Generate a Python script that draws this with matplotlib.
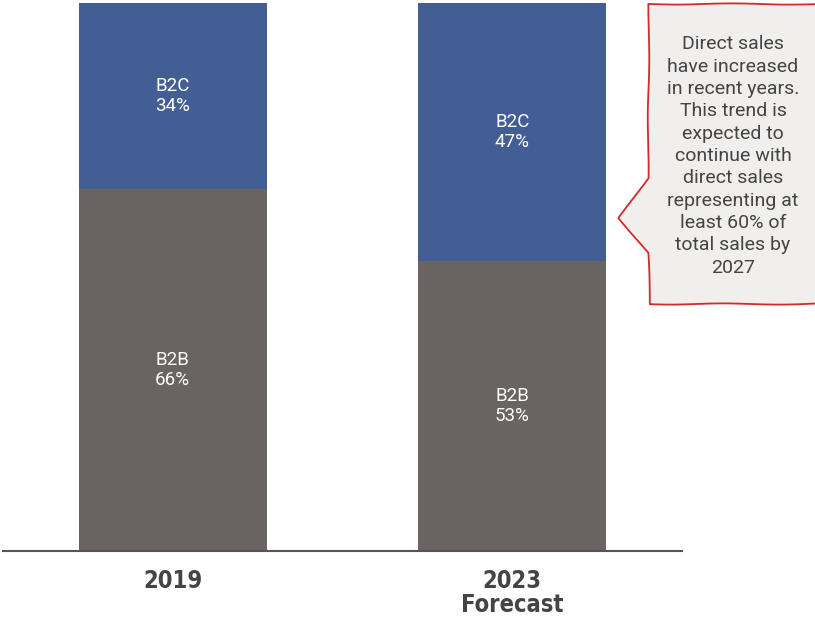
import matplotlib
matplotlib.use("Agg")
import matplotlib.pyplot as plt
from matplotlib.patches import Polygon
from matplotlib import font_manager

years = ["2019", "2023\nForecast"]
b2b = [66, 53]
b2c = [34, 47]
segment_names = ["B2B", "B2C"]
note = ("Direct sales\nhave increased\nin recent years.\nThis trend is\nexpected to\n"
        "continue with\ndirect sales\nrepresenting at\nleast 60% of\ntotal sales by\n2027")

GRAY = "#696462"
BLUE = "#435d95"
TEXT = "#444444"

fonts = font_manager.fontManager.ttflist
installed = {f.name for f in fonts}
has_condensed = any(f.name == "DejaVu Sans" and f.stretch == "condensed" for f in fonts)
body = "Roboto" if "Roboto" in installed else "DejaVu Sans"

W, H = 815, 624
fig = plt.figure(figsize=(W / 100, H / 100), dpi=100)
ax = fig.add_axes([3 / W, (H - 551) / H, 679 / W, 548 / H])

x = list(range(len(years)))
width = 0.554
ax.bar(x, b2b, width, color=GRAY)
ax.bar(x, b2c, width, bottom=b2b, color=BLUE)

for i in x:
    ax.text(i, b2b[i] / 2, f"{segment_names[0]}\n{b2b[i]}%", ha="center", va="center",
            color="white", fontsize=13.5, family=body, linespacing=1.15)
    ax.text(i, b2b[i] + b2c[i] / 2, f"{segment_names[1]}\n{b2c[i]}%", ha="center", va="center",
            color="white", fontsize=13.5, family=body, linespacing=1.15)

ax.set_xlim(-0.5, 1.5)
ax.set_ylim(0, 100)
for s in ["top", "right", "left"]:
    ax.spines[s].set_visible(False)
ax.spines["bottom"].set_color("#555555")
ax.spines["bottom"].set_linewidth(1.5)
ax.set_yticks([])
ax.set_xticks(x)
ax.set_xticklabels(years, fontsize=17, fontweight="bold", family="DejaVu Sans",
                   fontstretch="condensed" if has_condensed else "normal",
                   color=TEXT, linespacing=1.0)
ax.tick_params(axis="x", length=0, pad=13)

# callout bubble pointing at the forecast bar
pts_px = [(649, 4), (818, 4), (818, 304), (650, 304), (648, 253), (619, 218), (648, 178)]
pts = [(px / W, 1 - py / H) for px, py in pts_px]
bubble = Polygon(pts, closed=True, transform=fig.transFigure, facecolor="#f0efed",
                 edgecolor="#d42a2a", linewidth=1.3, clip_on=False)
bubble.set_sketch_params(scale=0.6, length=120, randomness=2)
fig.add_artist(bubble)

fig.text(733 / W, 1 - 156 / H, note, ha="center", va="center", fontsize=14,
         family=body, color=TEXT, linespacing=1.31)

fig.savefig("out.png", dpi=100)
